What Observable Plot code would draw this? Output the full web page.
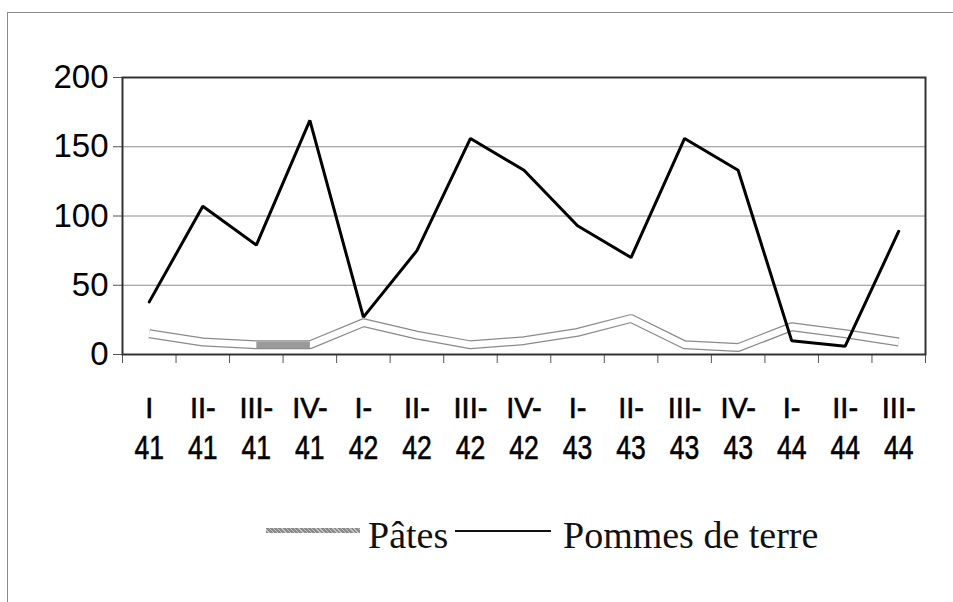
<!DOCTYPE html>
<html><head><meta charset="utf-8">
<script src="https://cdn.jsdelivr.net/npm/d3@7"></script>
<script src="https://cdn.jsdelivr.net/npm/@observablehq/plot@0.6"></script>
<style>
html,body{margin:0;padding:0;background:#fff;width:953px;height:602px;overflow:hidden;}
#wrap{position:relative;width:953px;height:602px;}
#chart svg{display:block;}
#frame{position:absolute;left:7px;top:12px;width:960px;height:600px;border-left:1.5px solid #8a8a8a;border-top:1.5px solid #8a8a8a;pointer-events:none;z-index:2;}
#legend{position:relative;height:102px;font-family:"Liberation Serif","Times New Roman",serif;font-size:38px;line-height:1;color:#111;}
#legend .sw{position:absolute;}
#legend .tx{position:absolute;top:16px;white-space:nowrap;}
</style>
</head><body>
<div id="wrap">
<div id="chart"></div>
<div id="legend"></div>
<div id="frame"></div>
</div>
<script>
// Data
const quarters = ["I","II-","III-","IV-","I-","II-","III-","IV-","I-","II-","III-","IV-","I-","II-","III-"];
const years    = ["41","41","41","41","42","42","42","42","43","43","43","43","44","44","44"];
const pommes   = [38,107,79,169,27,75,156,133,93,70,156,133,10,6,89];
const pates    = [15,9,7,7,23,14,7,10,16,26,7,5,20,15,9];
const shadedSegment = [2,3]; // III-41 → IV-41 drawn shaded in the original
const yTicks = [0,50,100,150,200];
const gridValues = [50,100,150];
const seriesNames = ["Pâtes","Pommes de terre"];

const n = quarters.length;
const idx = d3.range(n);
const bounds = d3.range(n + 1).map(k => k - 0.5);
const rowsP = idx.map(i => ({i, v: pates[i]}));
const rowsT = idx.map(i => ({i, v: pommes[i]}));
const rowsShade = rowsP.filter(d => shadedSegment.includes(d.i));

const chart = Plot.plot({
  width: 953, height: 500,
  marginLeft: 122, marginRight: 28, marginTop: 77, marginBottom: 146,
  x: {domain: [-0.5, n - 0.5], label: null},
  y: {domain: [0, 200], label: null},
  style: {fontFamily: '"Liberation Sans", Arial, sans-serif', background: "white", color: "#000"},
  marks: [
    Plot.ruleY(gridValues, {stroke: "#8c8c8c", strokeWidth: 1}),
    Plot.axisY({ticks: yTicks, tickSize: 9, tickPadding: 5, fontSize: 33, stroke: "#555", label: null}),
    Plot.axisX({ticks: bounds, tickSize: 9, tickFormat: () => "", stroke: "#555", label: null}),
    Plot.axisX({ticks: idx, tickSize: 0, tickPadding: 43, tickFormat: i => quarters[i], fontSize: 29, label: null}),
    Plot.axisX({ticks: idx, tickSize: 0, tickPadding: 80, tickFormat: i => years[i], fontSize: 34, label: null}),
    Plot.line(rowsP, {x: "i", y: "v", stroke: "#8a8a8a", strokeWidth: 9, strokeLinejoin: "bevel", strokeLinecap: "butt"}),
    Plot.line(rowsP, {x: "i", y: "v", stroke: "#fff", strokeWidth: 6.5, strokeLinejoin: "bevel", strokeLinecap: "butt"}),
    Plot.line(rowsShade, {x: "i", y: "v", stroke: "#9a9a9a", strokeWidth: 6.5, strokeLinecap: "butt"}),
    Plot.line(rowsT, {x: "i", y: "v", stroke: "#000", strokeWidth: 3, strokeLinejoin: "miter"}),
    Plot.frame({stroke: "#333", strokeWidth: 2})
  ]
});
// condense the year labels horizontally and thicken x labels, as in the original
chart.querySelectorAll('text').forEach(t => {
  const s = t.textContent.trim();
  if (quarters.includes(s) || years.includes(s)) {
    t.setAttribute("stroke", "currentColor");
    t.setAttribute("stroke-width", "0.6");
  }
  if (!years.includes(s)) return;
  const x = t.getAttribute("x");
  if (x !== null) {
    const y = t.getAttribute("y") || 0;
    t.removeAttribute("x"); t.removeAttribute("y");
    t.setAttribute("transform", `translate(${x},${y}) scale(0.78,1)`);
  } else {
    const tr = t.getAttribute("transform") || "";
    t.setAttribute("transform", tr + " scale(0.78,1)");
  }
});
document.getElementById("chart").appendChild(chart);

// Legend
const lg = document.getElementById("legend");
lg.innerHTML = `
<div class="sw" style="left:266px;top:28px;width:94px;height:5px;background:repeating-linear-gradient(45deg,#8a8a8a 0 2px,#c4c4c4 2px 3px);"></div>
<span class="tx" style="left:368px;">${seriesNames[0]}</span>
<div class="sw" style="left:455px;top:30px;width:96px;height:2px;background:#111;"></div>
<span class="tx" style="left:563px;">${seriesNames[1]}</span>`;
</script>
</body></html>
